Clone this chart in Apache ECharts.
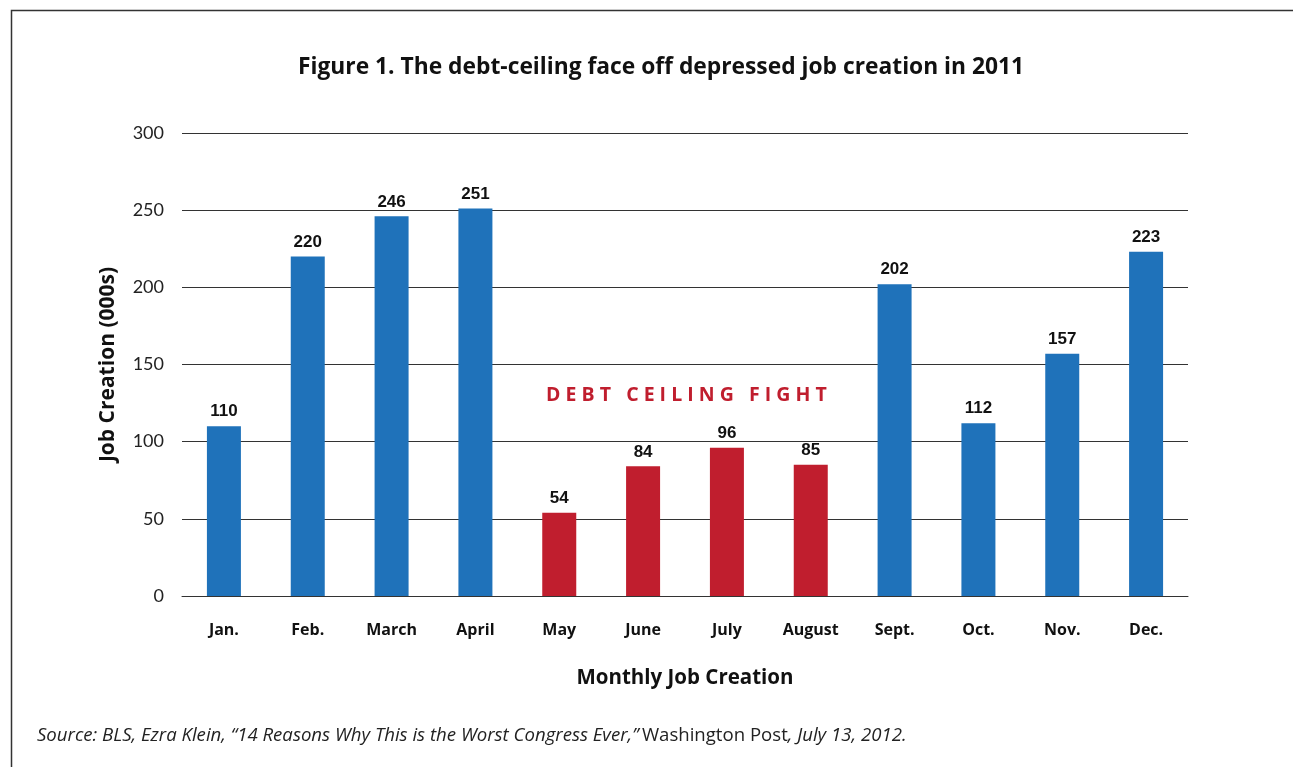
<!DOCTYPE html>
<html>
<head>
<meta charset="utf-8">
<style>
  html, body { margin: 0; padding: 0; background: #fff; }
  #chart { width: 1293px; height: 767px; }
</style>
<script src="https://cdn.jsdelivr.net/npm/echarts@6/dist/echarts.min.js"></script>
</head>
<body>
<div id="chart"></div>
<script>
// monthly job creation 2011 (000s)
const months = ['Jan.', 'Feb.', 'March', 'April', 'May', 'June', 'July', 'August', 'Sept.', 'Oct.', 'Nov.', 'Dec.'];
const jobs = [110, 220, 246, 251, 54, 84, 96, 85, 202, 112, 157, 223];
const fightMonths = ['May', 'June', 'July', 'August'];
const yTicks = [0, 50, 100, 150, 200, 250, 300];

const BLUE = '#1f72ba';
const RED = '#c01e2e';
const FONT = '"Open Sans", Lato, sans-serif';

const chart = echarts.init(document.getElementById('chart'));

const barData = jobs.map(function (v, i) {
  return {
    value: v,
    itemStyle: { color: fightMonths.indexOf(months[i]) >= 0 ? RED : BLUE }
  };
});

chart.setOption({
  animation: false,
  textStyle: { fontFamily: FONT },
  title: {
    text: 'Figure 1. The debt-ceiling face off depressed job creation in 2011',
    left: 293,
    top: 51,
    textStyle: { fontSize: 22.8, fontWeight: 'bold', color: '#111', fontFamily: FONT }
  },
  grid: { left: 182, right: 105, top: 133, bottom: 171, containLabel: false },
  xAxis: {
    type: 'category',
    data: months,
    axisLine: { show: true, lineStyle: { color: '#333', width: 1 } },
    axisTick: { show: false },
    axisLabel: { margin: 26, fontSize: 16, fontWeight: 'bold', color: '#111', fontFamily: FONT },
    name: 'Monthly Job Creation',
    nameLocation: 'middle',
    nameGap: 72,
    nameTextStyle: { fontSize: 20.5, fontWeight: 'bold', color: '#111', fontFamily: FONT }
  },
  yAxis: {
    type: 'value',
    min: yTicks[0],
    max: yTicks[yTicks.length - 1],
    interval: 50,
    axisLine: { show: false },
    axisTick: { show: false },
    splitLine: { lineStyle: { color: '#333', width: 1 } },
    axisLabel: { margin: 18, fontSize: 18, color: '#222', fontFamily: 'Lato, sans-serif' },
    name: 'Job Creation (000s)',
    nameLocation: 'middle',
    nameRotate: 90,
    nameGap: 63,
    nameTextStyle: { fontSize: 21, fontWeight: 'bold', color: '#111', fontFamily: FONT }
  },
  series: [{
    type: 'bar',
    data: barData,
    barWidth: 34,
    label: {
      show: true,
      position: 'top',
      distance: 6,
      fontSize: 17,
      fontWeight: 'bold',
      color: '#111',
      fontFamily: '"Liberation Sans", Arial, sans-serif'
    }
  }],
  graphic: [
    {
      type: 'rect',
      left: 9, top: 8,
      shape: { width: 1400, height: 900 },
      style: { fill: 'none', stroke: '#333', lineWidth: 1.5 },
      silent: true
    },
    {
      type: 'text',
      left: 546, top: 385,
      style: {
        text: 'D E B T   C E I L I N G   F I G H T',
        fontSize: 19.5, fontWeight: 'bold', fill: RED,
        fontFamily: FONT
      }
    },
    {
      type: 'text',
      left: 37, top: 726,
      style: {
        text: '{i|Source: BLS, Ezra Klein, \u201c14 Reasons Why This is the Worst Congress Ever,\u201d} {n|Washington Post}{i|, July 13, 2012.}',
        rich: {
          i: { fontSize: 18.6, fontStyle: 'italic', fill: '#222', fontFamily: FONT },
          n: { fontSize: 18.6, fill: '#222', fontFamily: FONT }
        }
      }
    }
  ]
});
</script>
</body>
</html>
